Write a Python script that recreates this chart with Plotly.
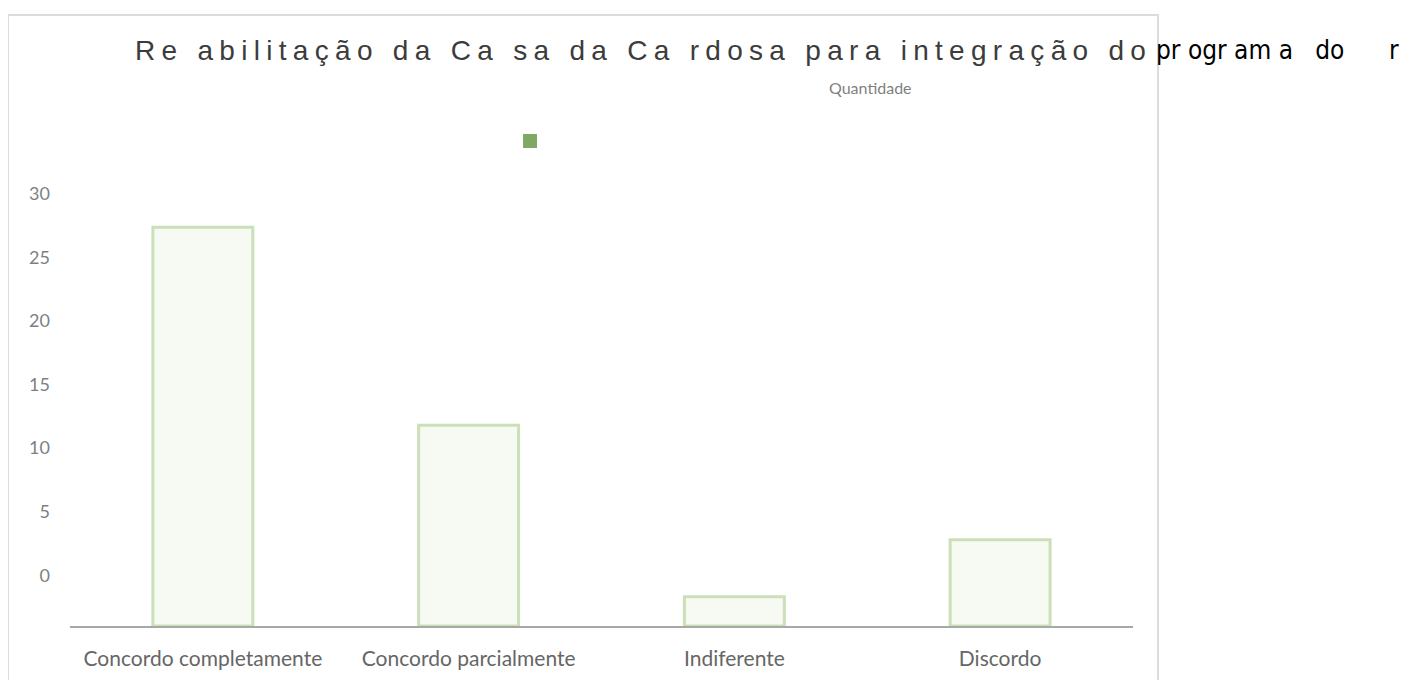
import plotly.graph_objects as go

# categorias e valores lidos no eixo (topo de cada barra)
categorias = ["Concordo completamente", "Concordo parcialmente", "Indiferente", "Discordo"]
quantidade = [27.4, 11.8, -1.7, 2.8]
y_ticks = [0, 5, 10, 15, 20, 25, 30]

y_min = -4.0
y_max = 31.9

fig = go.Figure(go.Bar(
    x=categorias,
    y=[v - y_min for v in quantidade],
    base=y_min,
    width=0.376,
    name="Quantidade",
    marker=dict(color="rgba(238,246,231,0.5)",
                line=dict(color="#cbe0b8", width=3)),
    showlegend=False,
))

# a página tem 8px de margem no body, por isso l/t menores
fig.update_layout(
    width=1408, height=680,
    margin=dict(l=62, r=283, t=162, b=62, autoexpand=False),
    plot_bgcolor="white",
    paper_bgcolor="white",
    font=dict(family="Lato, sans-serif", color="#666666"),
    xaxis=dict(
        showline=True, linecolor="#a8a8a8", linewidth=2,
        showgrid=False, ticks="",
        tickfont=dict(size=21, color="#666666"),
        ticklabelstandoff=13,
    ),
    yaxis=dict(
        range=[y_min, y_max],
        tickvals=y_ticks,
        showline=False, showgrid=False, zeroline=False, ticks="",
        tickfont=dict(size=18, color="#7f7f7f"),
        ticklabelstandoff=19,
    ),
)

# moldura do gráfico
fig.add_shape(type="rect", xref="paper", yref="paper",
              x0=-0.0583, x1=1.0235, y0=-0.14, y1=1.34,
              line=dict(color="#dcdcdc", width=2), fillcolor="rgba(0,0,0,0)",
              layer="below")

# marcador da legenda
fig.add_shape(type="rect", xref="paper", yref="paper",
              x0=0.4262, x1=0.4393, y0=1.0482, y1=1.0789,
              line=dict(width=0), fillcolor="#7fa862")

fig.add_annotation(
    text='<span style="letter-spacing:6.3px">Re abilitação da Ca sa da Ca rdosa para integração do</span>',
    xref="paper", yref="paper", x=0.0593, y=1.263,
    xanchor="left", yanchor="middle", showarrow=False,
    font=dict(family="Liberation Sans, Arial, sans-serif", size=28, color="#3c3c3c"),
)
fig.add_annotation(
    text="pr\u00a0ogr\u00a0am\u00a0a\u00a0\u00a0\u00a0do" + "\u00a0" * 6 + "r",
    xref="paper", yref="paper", x=1.0197, y=1.263,
    xanchor="left", yanchor="middle", showarrow=False,
    font=dict(family="Liberation Sans Narrow, DejaVu Sans Condensed, sans-serif",
              size=26, color="#000000"),
)
fig.add_annotation(
    text="Quantidade",
    xref="paper", yref="paper", x=0.7526, y=1.1820,
    xanchor="center", yanchor="middle", showarrow=False,
    font=dict(family="Lato, sans-serif", size=16, color="#7f7f7f"),
)

fig.write_html("out.html")
